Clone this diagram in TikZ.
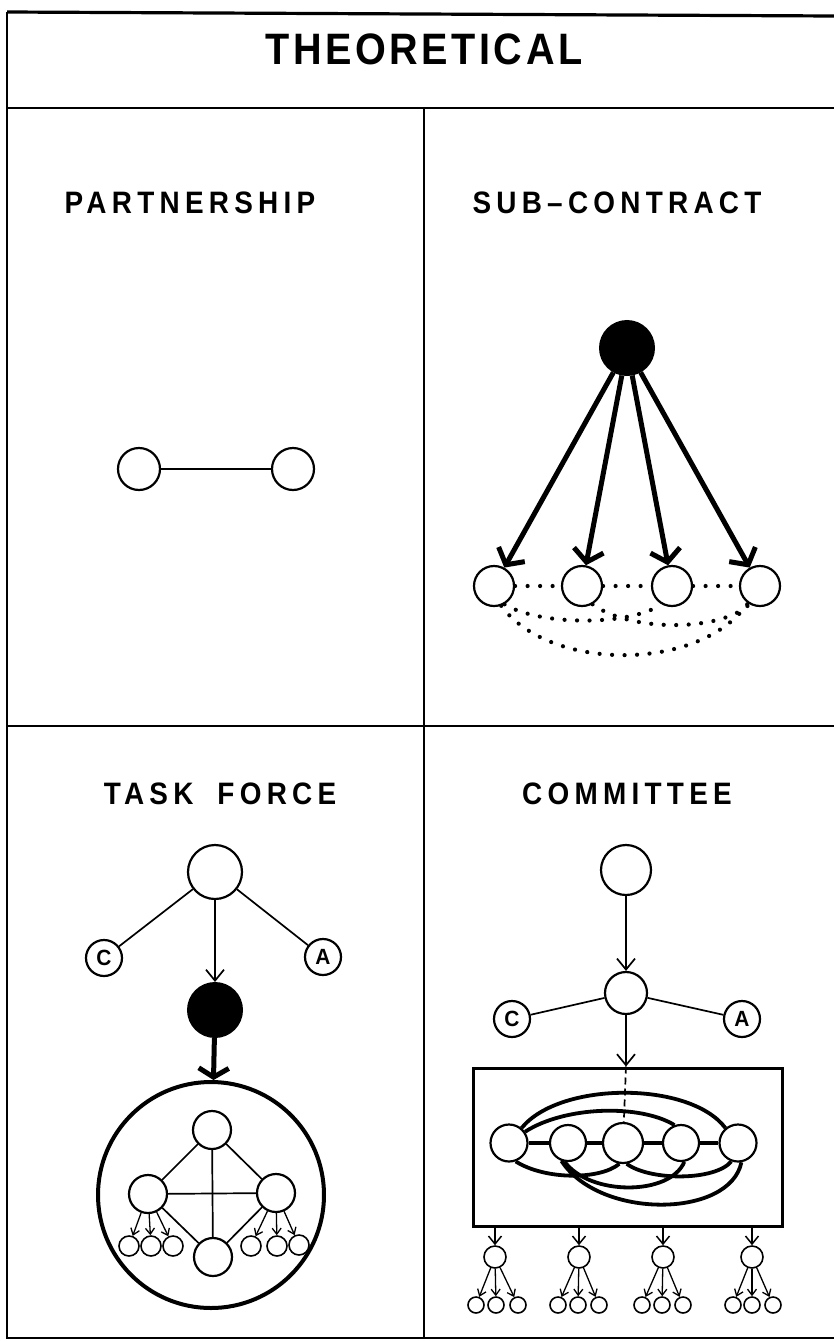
\documentclass[tikz,border=0pt]{standalone}
\usepackage{fontspec}
\setmainfont{Liberation Sans}
\newfontfamily\titlefont[LetterSpace=8,FakeStretch=0.9]{Liberation Sans Bold}
\newfontfamily\headfont[LetterSpace=17,FakeStretch=0.9]{Liberation Sans Bold}
\newfontfamily\markfont[FakeStretch=0.95]{Liberation Sans Bold}
\usetikzlibrary{arrows.meta}

\begin{document}
\begin{tikzpicture}[x=1pt,y=-1pt,
  ring/.style={circle,draw,line width=2.2pt,inner sep=0pt,minimum size=#1},
  smallring/.style={circle,draw,line width=1.6pt,inner sep=0pt,minimum size=#1},
  solidball/.style={circle,draw,fill=black,line width=2pt,inner sep=0pt,minimum size=#1},
  lettered/.style={ring=36pt,font=\fontsize{22}{22}\selectfont\markfont},
  heading/.style={font=\fontsize{31}{31}\selectfont\headfont},
  link/.style={line width=1.7pt},
  thinarrow/.style={line width=1.7pt,-{Straight Barb[length=11pt,width=18pt,line width=1.7pt]}},
  tinyarrow/.style={line width=1.3pt,-{Straight Barb[length=6pt,width=9pt,line width=1.3pt]}},
  heavyarrow/.style={line width=5pt,-{Straight Barb[length=12pt,width=30pt,line width=5pt]}},
  dotline/.style={line width=4.2pt,line cap=round,dash pattern=on 0pt off 12.5pt},
  tube/.style={line width=3.8pt},
  frameline/.style={line width=2.6pt}
]
\useasboundingbox (0,0) rectangle (834,1341);

% ---- frame ----
\coordinate (tl) at (7,12);
\coordinate (tr) at (834,16);
\coordinate (bl) at (7,1338);
\coordinate (br) at (834,1338);
\coordinate (hl) at (7,108);
\coordinate (hr) at (834,108);
\coordinate (ml) at (7,726);
\coordinate (mr) at (834,726);
\coordinate (vt) at (424,108);
\coordinate (vb) at (424,1338);
\draw[frameline,line width=3.2pt] (tl) -- (tr);
\draw[frameline] (tl) -- (bl) -- (br);
\draw[frameline] (hl) -- (hr);
\draw[frameline] (ml) -- (mr);
\draw[frameline] (vt) -- (vb);

% ---- headings ----
\node (title) at (424,49) {\fontsize{44}{44}\selectfont\titlefont THEORETICAL};
\node[heading] (hpart) at (190,203) {PARTNERSHIP};
\node[heading] (hsub) at (617,203) {SUB–CONTRACT};
\node[heading] (htask) at (220,794) {TASK\hspace{24pt}FORCE};
\node[heading] (hcom) at (627,794) {COMMITTEE};

% ---- partnership ----
\node[ring=42pt] (p1) at (139,469) {};
\node[ring=42pt] (p2) at (293,469) {};
\draw[link] (p1) -- (p2);

% ---- sub-contract ----
\node[solidball=54pt] (k) at (627,348) {};
\node[ring=40pt] (s1) at (494,586) {};
\node[ring=40pt] (s2) at (582,586) {};
\node[ring=40pt] (s3) at (672,586) {};
\node[ring=40pt] (s4) at (760,586) {};
\foreach \t in {s1,s2,s3,s4}
  \draw[heavyarrow] (k) -- (\t);
\draw[dotline] (s1) -- (s2);
\draw[dotline] (s2) -- (s3);
\draw[dotline] (s3) -- (s4);
\draw[dotline] (s1.-60) .. controls (540,626) and (630,626) .. (s3.-120);
\draw[dotline] (s2.-60) .. controls (630,632) and (720,632) .. (s4.-120);
\draw[dotline] (s1.-70) .. controls (550,672) and (700,672) .. (s4.-125);

% ---- task force ----
\node[ring=54pt] (tt) at (215,872) {};
\node[lettered] (tc) at (104,958) {C};
\node[lettered] (ta) at (323,957) {A};
\node[solidball=54pt] (tb) at (215,1010) {};
\node[circle,draw,line width=4pt,inner sep=0pt,minimum size=226pt] (tbig) at (211,1195) {};
\draw[link] (tt) -- (tc);
\draw[link] (tt) -- (ta);
\draw[thinarrow] (tt) -- (tb);
\draw[heavyarrow,-{Straight Barb[length=9pt,width=30pt,line width=5pt]}] (tb) -- (tbig);

\node[ring=38pt] (ti1) at (212,1130) {};
\node[ring=38pt] (ti2) at (148,1194) {};
\node[ring=38pt] (ti3) at (276,1193) {};
\node[ring=38pt] (ti4) at (213,1257) {};
\draw[link] (ti1) -- (ti2);
\draw[link] (ti1) -- (ti3);
\draw[link] (ti1) -- (ti4);
\draw[link] (ti2) -- (ti3);
\draw[link] (ti2) -- (ti4);
\draw[link] (ti3) -- (ti4);
\node[smallring=20pt] (tl1) at (129,1246) {};
\node[smallring=20pt] (tl2) at (151,1246) {};
\node[smallring=20pt] (tl3) at (173,1246) {};
\node[smallring=20pt] (tr1) at (251,1246) {};
\node[smallring=20pt] (tr2) at (277,1246) {};
\node[smallring=20pt] (tr3) at (299,1245) {};
\foreach \t in {tl1,tl2,tl3}
  \draw[tinyarrow] (ti2) -- (\t);
\foreach \t in {tr1,tr2,tr3}
  \draw[tinyarrow] (ti3) -- (\t);

% ---- committee ----
\node[ring=50pt] (ct) at (626,870) {};
\node[ring=42pt] (cm) at (626,993) {};
\node[lettered] (cc) at (512,1019) {C};
\node[lettered] (ca) at (742,1019) {A};
\draw[thinarrow] (ct) -- (cm);
\draw[link] (cm) -- (cc);
\draw[link] (cm) -- (ca);

\node[draw,line width=3pt,minimum width=309pt,minimum height=158pt,inner sep=0pt] (box) at (627.5,1147) {};
\node[ring=37pt] (c1) at (509,1143) {};
\node[ring=36pt] (c2) at (568,1143) {};
\node[ring=40pt] (c3) at (623,1143) {};
\node[ring=36pt] (c4) at (681,1143) {};
\node[ring=37pt] (c5) at (738,1143) {};
\coordinate (boxin) at (cm |- box.north);
\draw[thinarrow] (cm) -- (boxin);
\draw[line width=1.7pt,dash pattern=on 7pt off 4pt] (boxin) -- (c3);

% bonds inside the committee
\draw[tube] (c1) -- (c2);
\draw[tube] (c2) -- (c3);
\draw[tube] (c3) -- (c4);
\draw[tube] (c4) -- (c5);
\draw[tube] (c1.50) .. controls (560,1081) and (690,1081) .. (c5.130);
\draw[tube] (c1.35) .. controls (565,1106) and (640,1104) .. (c4.110);
\draw[tube] (c1.-70) .. controls (545,1180) and (600,1180) .. (c3.-100);
\draw[tube] (c3.-80) .. controls (650,1181) and (715,1181) .. (c5.-110);
\draw[tube] (c2.-100) .. controls (590,1196) and (670,1196) .. (c4.-80);
\draw[tube] (c2.-110) .. controls (600,1220) and (730,1218) .. (c5.-80);

% working groups below the committee
\foreach \i/\x in {1/495,2/579,3/663,4/752} {
  \node[smallring=22pt] (g\i) at (\x,1257) {};
  \coordinate (gin\i) at (g\i |- box.south);
  \draw[thinarrow,-{Straight Barb[length=8pt,width=13pt,line width=1.5pt]},line width=1.5pt] (gin\i) -- (g\i);
}
\foreach \i/\a/\b/\c in {1/476/496/518,2/558/578/599,3/642/662/683,4/733/752/773} {
  \node[smallring=16pt] (g\i a) at (\a,1305) {};
  \node[smallring=16pt] (g\i b) at (\b,1305) {};
  \node[smallring=16pt] (g\i c) at (\c,1305) {};
  \draw[tinyarrow] (g\i) -- (g\i a);
  \draw[tinyarrow] (g\i) -- (g\i b);
  \draw[tinyarrow] (g\i) -- (g\i c);
}
\end{tikzpicture}
\end{document}
